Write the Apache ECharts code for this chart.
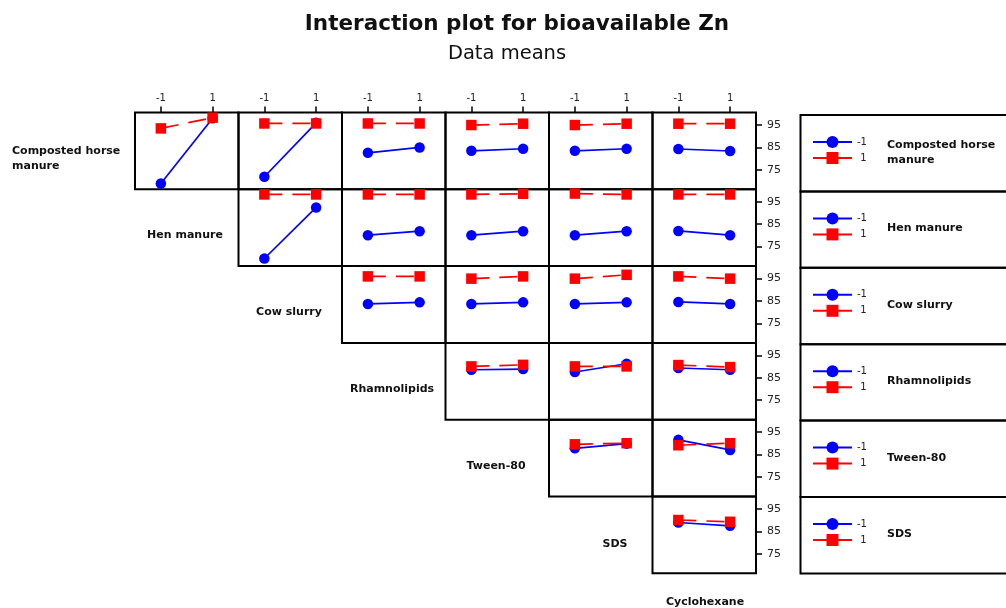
<!DOCTYPE html>
<html>
<head>
<meta charset="utf-8">
<script src="https://cdn.jsdelivr.net/npm/echarts@6/dist/echarts.min.js"></script>
<style>
  html, body { margin: 0; padding: 0; background: #ffffff; }
  #chart { width: 1006px; height: 608px; }
</style>
</head>
<body>
<div id="chart"></div>
<script>
// Factors of the 2-level design, in matrix order
const factors = ['Composted horse manure', 'Hen manure', 'Cow slurry', 'Rhamnolipids', 'Tween-80', 'SDS', 'Cyclohexane'];
const levelLabels = ['-1', '1'];
const yTicks = [75, 85, 95];

// Cell means of bioavailable Zn. For each row factor: one [mean at column factor -1, mean at column factor +1]
// pair per column factor to its right. "Low" = row factor at -1, "High" = row factor at +1.
const horseLow   = [[68.9, 98.0], [71.9, 96.0], [82.6, 85.0], [83.5, 84.4], [83.5, 84.4], [84.3, 83.4]];
const horseHigh  = [[93.5, 98.3], [95.7, 95.7], [95.7, 95.7], [95.0, 95.6], [95.0, 95.6], [95.6, 95.6]];
const henLow     = [[69.7, 92.5], [80.1, 81.9], [80.1, 81.9], [80.1, 81.9], [82.0, 80.1]];
const henHigh    = [[98.3, 98.3], [98.3, 98.3], [98.3, 98.6], [98.7, 98.3], [98.3, 98.3]];
const cowLow     = [[83.7, 84.4], [83.7, 84.4], [83.7, 84.4], [84.6, 83.7]];
const cowHigh    = [[96.0, 96.0], [95.0, 96.0], [95.0, 96.7], [96.0, 95.0]];
const rhamnoLow  = [[88.6, 88.9], [87.6, 91.3], [89.4, 88.6]];
const rhamnoHigh = [[90.1, 90.8], [90.1, 90.1], [90.7, 89.8]];
const tweenLow   = [[87.8, 89.9], [91.6, 87.1]];
const tweenHigh  = [[89.6, 90.1], [89.2, 90.1]];
const sdsLow     = [[89.0, 87.5]];
const sdsHigh    = [[90.1, 89.3]];

const lowRows  = [horseLow, henLow, cowLow, rhamnoLow, tweenLow, sdsLow];
const highRows = [horseHigh, henHigh, cowHigh, rhamnoHigh, tweenHigh, sdsHigh];

// Panel matrix geometry
const COL_X = 135, COL_W = 103.5;
const ROW_Y = 112.5, ROW_H = 76.8;
const Y_MIN = 66.3, Y_MAX = 100.6;
const BLUE = '#0000ff', RED = '#ff0000';
const FONT = 'DejaVu Sans';

const grids = [], xAxes = [], yAxes = [], series = [], legends = [], graphics = [];

let k = 0;
for (let r = 0; r < 6; r++) {
  for (let f = r + 1; f < 7; f++) {
    const c = f - 1;
    grids.push({
      left: COL_X + c * COL_W, top: ROW_Y + r * ROW_H, width: COL_W, height: ROW_H,
      show: true, borderColor: '#000', borderWidth: 2, backgroundColor: 'transparent',
      containLabel: false, outerBoundsMode: 'none'
    });
    xAxes.push({
      gridIndex: k, type: 'category', data: levelLabels, boundaryGap: true,
      position: 'top', show: r === 0,
      axisLine: { show: false },
      axisTick: { show: true, alignWithLabel: true, length: 6, lineStyle: { color: '#000', width: 1.5 } },
      axisLabel: { fontSize: 10, color: '#222', margin: 9, fontFamily: FONT },
      splitLine: { show: false }
    });
    yAxes.push({
      gridIndex: k, type: 'value', min: Y_MIN, max: Y_MAX,
      position: 'right', show: f === 6,
      axisLine: { show: false },
      axisTick: { show: true, customValues: yTicks, length: 6, lineStyle: { color: '#000', width: 1.5 } },
      axisLabel: { customValues: yTicks, fontSize: 11, color: '#222', margin: 11, fontFamily: FONT },
      splitLine: { show: false }
    });
    const idx = f - r - 1;
    series.push({
      type: 'line', name: '-1', xAxisIndex: k, yAxisIndex: k,
      data: lowRows[r][idx],
      symbol: 'circle', symbolSize: 10.5, clip: false, silent: true, z: 3,
      itemStyle: { color: BLUE },
      lineStyle: { color: BLUE, width: 1.7 }
    });
    series.push({
      type: 'line', name: '1', xAxisIndex: k, yAxisIndex: k,
      data: highRows[r][idx],
      symbol: 'rect', symbolSize: 10.5, clip: false, silent: true, z: 4,
      itemStyle: { color: RED },
      lineStyle: { color: RED, width: 1.7, type: [18, 10] }
    });
    k++;
  }
}

// Legend boxes, one per row factor
const BOX_TOP = 115, BOX_H = 76.4;
for (let r = 0; r < 6; r++) {
  const top = BOX_TOP + r * BOX_H;
  legends.push({
    data: levelLabels, orient: 'vertical', left: 812, top: top + 21, padding: 0,
    itemWidth: 39, itemHeight: 15, itemGap: 4, selectedMode: false,
    lineStyle: { type: 'solid', width: 2 },
    formatter: name => (name === '1' ? ' 1' : name),
    textStyle: { fontSize: 10, color: '#222', fontFamily: FONT }
  });
  graphics.push({
    type: 'rect', silent: true,
    shape: { x: 800.5, y: top, width: 230, height: BOX_H },
    style: { fill: 'none', stroke: '#000', lineWidth: 2 }
  });
  graphics.push({
    type: 'text', silent: true, x: 887, y: top + BOX_H / 2 - 1,
    style: {
      text: r === 0 ? 'Composted horse\nmanure' : factors[r],
      font: 'bold 11px "' + FONT + '"', fill: '#111', lineHeight: 15,
      textAlign: 'left', textVerticalAlign: 'middle'
    }
  });
}

// Factor names on the diagonal of the matrix
const diagLabels = [
  { text: 'Composted horse\nmanure', x: 12, y: 159, align: 'left' },
  { text: factors[1], x: 185, y: 235, align: 'center' },
  { text: factors[2], x: 289, y: 312, align: 'center' },
  { text: factors[3], x: 392, y: 389, align: 'center' },
  { text: factors[4], x: 496, y: 466, align: 'center' },
  { text: factors[5], x: 615, y: 544, align: 'center' },
  { text: factors[6], x: 705, y: 602, align: 'center' }
];
diagLabels.forEach(d => graphics.push({
  type: 'text', silent: true, x: d.x, y: d.y,
  style: {
    text: d.text, font: 'bold 11px "' + FONT + '"', fill: '#111', lineHeight: 15,
    textAlign: d.align, textVerticalAlign: 'middle'
  }
}));

// Titles
graphics.push({
  type: 'text', silent: true, x: 517, y: 24,
  style: { text: 'Interaction plot for bioavailable Zn', font: 'bold 21.5px "' + FONT + '"', fill: '#111',
           textAlign: 'center', textVerticalAlign: 'middle' }
});
graphics.push({
  type: 'text', silent: true, x: 507, y: 54,
  style: { text: 'Data means', font: '19.5px "' + FONT + '"', fill: '#111',
           textAlign: 'center', textVerticalAlign: 'middle' }
});

const chart = echarts.init(document.getElementById('chart'), null, { renderer: 'canvas' });
chart.setOption({
  animation: false,
  backgroundColor: '#ffffff',
  grid: grids,
  xAxis: xAxes,
  yAxis: yAxes,
  legend: legends,
  series: series,
  graphic: graphics
});
</script>
</body>
</html>
